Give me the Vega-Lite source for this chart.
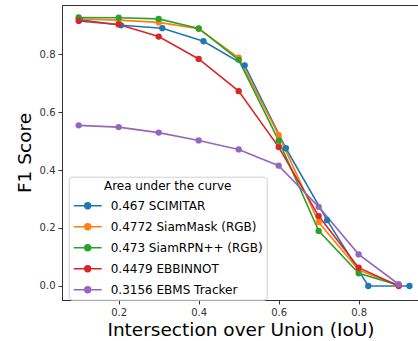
{
  "$schema": "https://vega.github.io/schema/vega-lite/v6.json",
  "autosize": {"type": "none"},
  "padding": {"left": 62, "top": 5, "right": 0, "bottom": 41},
  "width": 357,
  "height": 295,
  "config": {
    "font": "DejaVu Sans",
    "view": {"stroke": "#333", "strokeWidth": 1},
    "axis": {"grid": false, "domainColor": "#333", "tickColor": "#333", "labelColor": "#333", "labelFont": "DejaVu Sans", "titleFont": "DejaVu Sans", "titleFontWeight": "normal", "titleColor": "#000", "labelFontSize": 10, "titleFontSize": 18.5, "tickSize": 4}
  },
  "data": {
    "values": [
      {"series": "0.467 SCIMITAR", "iou": 0.103, "f1": 0.918},
      {"series": "0.467 SCIMITAR", "iou": 0.206, "f1": 0.899},
      {"series": "0.467 SCIMITAR", "iou": 0.309, "f1": 0.889},
      {"series": "0.467 SCIMITAR", "iou": 0.412, "f1": 0.844},
      {"series": "0.467 SCIMITAR", "iou": 0.515, "f1": 0.761},
      {"series": "0.467 SCIMITAR", "iou": 0.618, "f1": 0.475},
      {"series": "0.467 SCIMITAR", "iou": 0.721, "f1": 0.227},
      {"series": "0.467 SCIMITAR", "iou": 0.824, "f1": 0.0},
      {"series": "0.467 SCIMITAR", "iou": 0.927, "f1": 0.0},
      {"series": "0.4772 SiamMask (RGB)", "iou": 0.1, "f1": 0.921},
      {"series": "0.4772 SiamMask (RGB)", "iou": 0.2, "f1": 0.917},
      {"series": "0.4772 SiamMask (RGB)", "iou": 0.3, "f1": 0.909},
      {"series": "0.4772 SiamMask (RGB)", "iou": 0.4, "f1": 0.887},
      {"series": "0.4772 SiamMask (RGB)", "iou": 0.5, "f1": 0.787},
      {"series": "0.4772 SiamMask (RGB)", "iou": 0.6, "f1": 0.52},
      {"series": "0.4772 SiamMask (RGB)", "iou": 0.7, "f1": 0.22},
      {"series": "0.4772 SiamMask (RGB)", "iou": 0.8, "f1": 0.055},
      {"series": "0.4772 SiamMask (RGB)", "iou": 0.9, "f1": 0.002},
      {"series": "0.473 SiamRPN++ (RGB)", "iou": 0.1, "f1": 0.926},
      {"series": "0.473 SiamRPN++ (RGB)", "iou": 0.2, "f1": 0.925},
      {"series": "0.473 SiamRPN++ (RGB)", "iou": 0.3, "f1": 0.921},
      {"series": "0.473 SiamRPN++ (RGB)", "iou": 0.4, "f1": 0.888},
      {"series": "0.473 SiamRPN++ (RGB)", "iou": 0.5, "f1": 0.78},
      {"series": "0.473 SiamRPN++ (RGB)", "iou": 0.6, "f1": 0.501},
      {"series": "0.473 SiamRPN++ (RGB)", "iou": 0.7, "f1": 0.19},
      {"series": "0.473 SiamRPN++ (RGB)", "iou": 0.8, "f1": 0.044},
      {"series": "0.473 SiamRPN++ (RGB)", "iou": 0.9, "f1": 0.003},
      {"series": "0.4479 EBBINNOT", "iou": 0.1, "f1": 0.914},
      {"series": "0.4479 EBBINNOT", "iou": 0.2, "f1": 0.902},
      {"series": "0.4479 EBBINNOT", "iou": 0.3, "f1": 0.86},
      {"series": "0.4479 EBBINNOT", "iou": 0.4, "f1": 0.783},
      {"series": "0.4479 EBBINNOT", "iou": 0.5, "f1": 0.672},
      {"series": "0.4479 EBBINNOT", "iou": 0.6, "f1": 0.479},
      {"series": "0.4479 EBBINNOT", "iou": 0.7, "f1": 0.241},
      {"series": "0.4479 EBBINNOT", "iou": 0.8, "f1": 0.063},
      {"series": "0.4479 EBBINNOT", "iou": 0.9, "f1": 0.0},
      {"series": "0.3156 EBMS Tracker", "iou": 0.1, "f1": 0.554},
      {"series": "0.3156 EBMS Tracker", "iou": 0.2, "f1": 0.548},
      {"series": "0.3156 EBMS Tracker", "iou": 0.3, "f1": 0.529},
      {"series": "0.3156 EBMS Tracker", "iou": 0.4, "f1": 0.502},
      {"series": "0.3156 EBMS Tracker", "iou": 0.5, "f1": 0.471},
      {"series": "0.3156 EBMS Tracker", "iou": 0.6, "f1": 0.415},
      {"series": "0.3156 EBMS Tracker", "iou": 0.7, "f1": 0.273},
      {"series": "0.3156 EBMS Tracker", "iou": 0.8, "f1": 0.109},
      {"series": "0.3156 EBMS Tracker", "iou": 0.9, "f1": 0.006}
    ]
  },
  "mark": {"type": "line", "strokeWidth": 1.6, "point": {"filled": true, "size": 40, "opacity": 1}},
  "encoding": {
    "x": {
      "field": "iou", "type": "quantitative",
      "scale": {"domain": [0.0583, 0.9508], "nice": false, "zero": false},
      "axis": {"values": [0.2, 0.4, 0.6, 0.8], "format": ".1f", "title": "Intersection over Union (IoU)", "labelPadding": 3, "titlePadding": 3}
    },
    "y": {
      "field": "f1", "type": "quantitative",
      "scale": {"domain": [-0.0483, 0.9690], "nice": false, "zero": false},
      "axis": {"values": [0, 0.2, 0.4, 0.6, 0.8], "format": ".1f", "title": "F1 Score", "labelPadding": 3, "titlePadding": 5}
    },
    "color": {
      "field": "series", "type": "nominal",
      "scale": {
        "domain": ["0.467 SCIMITAR", "0.4772 SiamMask (RGB)", "0.473 SiamRPN++ (RGB)", "0.4479 EBBINNOT", "0.3156 EBMS Tracker"],
        "range": ["#1f77b4", "#ff7f0e", "#2ca02c", "#d62728", "#9467bd"]
      },
      "legend": {
        "title": "Area under the curve",
        "orient": "none",
        "legendX": 6.7,
        "legendY": 171.7,
        "titleAnchor": "middle",
        "titleFontSize": 12,
        "titleFontWeight": "normal",
        "titleColor": "#000",
        "titlePadding": -2,
        "labelFontSize": 12,
        "labelColor": "#000",
        "labelOffset": 8,
        "symbolType": "M-1,0H1M-0.21,0A0.21,0.21,0,1,1,0.21,0A0.21,0.21,0,1,1,-0.21,0Z",
        "symbolSize": 784,
        "symbolStrokeWidth": 1.5,
        "rowPadding": -10.5,
        "padding": 4,
        "strokeColor": "#d0d0d0",
        "fillColor": "rgba(255,255,255,0.8)",
        "cornerRadius": 3,
        "encode": {
          "symbols": {"update": {"fill": {"scale": "color", "field": "value"}, "stroke": {"scale": "color", "field": "value"}, "opacity": {"value": 1}}}
        }
      }
    }
  }
}
